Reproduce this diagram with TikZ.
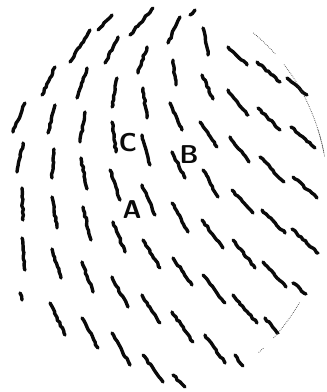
\documentclass[tikz,border=0pt]{standalone}
\usepackage{tikz}
\usetikzlibrary{decorations.pathmorphing}
\definecolor{ink}{HTML}{0A0A0A}
\definecolor{rimc}{HTML}{3A3A3A}
\tikzset{
  dsh/.style={ink,line width=2.9pt,line cap=round,line join=round,
    decorate,decoration={random steps,segment length=2.6pt,amplitude=0.7pt}},
  rim/.style={rimc,line width=0.6pt,densely dotted},
  lab/.style={ink,inner sep=0pt,font=\sffamily\bfseries\fontsize{22}{22}\selectfont},
}
\begin{document}
\begin{tikzpicture}[x=0.03cm,y=-0.03cm]
  \useasboundingbox (0,0) rectangle (326,392);
  % director field, one dash per cell
  \foreach \xa/\ya/\xb/\yb in {
    98/30/112/15, 130/35/153/8, 168/43/180/17, 190/15/195/10,
    70/62/90/30, 105/63/118/37, 138/73/147/47, 203/28/208/55,
    228/47/247/65, 257/62/280/82, 287/78/307/95,
    42/95/55/67, 77/98/87/68, 117/78/112/107, 143/88/147/118,
    173/60/176/85, 202/75/213/99, 228/90/248/115, 258/108/280/130, 291/127/315/148,
    13/132/25/103, 48/133/55/105, 80/142/85/112, 112/122/116/152, 142/135/150/165,
    170/103/182/130, 200/122/217/147, 230/137/249/162, 260/157/284/182, 293/177/317/198,
    17/172/23/143, 52/178/54/149, 81/158/87/189, 110/170/120/200, 142/185/155/215,
    172/152/185/178, 203/170/218/197, 232/190/253/213, 262/210/285/233, 292/229/318/253,
    22/188/23/220, 52/197/57/228, 83/207/91/240, 113/222/125/252, 143/240/160/268,
    172/203/188/232, 202/220/223/248, 233/240/255/268, 263/262/286/287, 293/283/306/294,
    22/238/25/270, 52/249/61/278, 82/262/93/292, 112/277/128/307, 142/295/160/323,
    173/258/192/285, 203/275/225/303, 233/295/257/323, 265/318/278/333,
    50/303/65/335, 82/318/98/348, 112/333/130/365, 143/355/163/382,
    172/312/193/342, 205/335/225/363, 235/355/243/366, 173/375/185/387,
    20/293/22/300}
    \draw[dsh] (\xa,\ya) -- (\xb,\yb);
  % faint rim of the sample
  \foreach \s/\e in {-53/-44, -40/-12, -1/1, -11/-19, 32/45, 49/51}
    \draw[rim] (140,195) ++(\s:188 and 203) arc[start angle=\s,end angle=\e,x radius=188,y radius=203];
  \node[lab] (C) at (128,143) {C};
  \node[lab] (B) at (189,155) {B};
  \node[lab] (A) at (132,210) {A};
\end{tikzpicture}
\end{document}
